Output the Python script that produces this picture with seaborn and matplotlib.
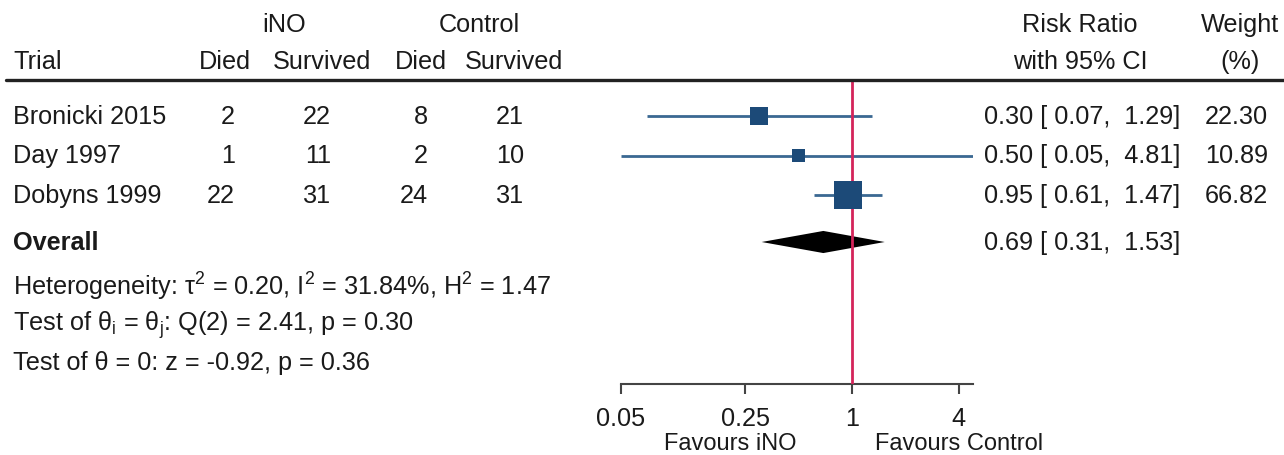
import numpy as np
import pandas as pd
import matplotlib
matplotlib.use("Agg")
import matplotlib.pyplot as plt
import matplotlib.transforms as mtrans
from matplotlib.lines import Line2D
import seaborn as sns

# ---------------- data ----------------
trials = ["Bronicki 2015", "Day 1997", "Dobyns 1999"]
ino_died = [2, 1, 22]
ino_surv = [22, 11, 31]
ctl_died = [8, 2, 24]
ctl_surv = [21, 10, 31]
rr = [0.30, 0.50, 0.95]
rr_lo = [0.07, 0.05, 0.61]
rr_hi = [1.29, 4.81, 1.47]
weights = [22.30, 10.89, 66.82]
overall = [0.69, 0.31, 1.53]  # estimate, low, high
xticks = [0.05, 0.25, 1, 4]
xticklabels = ["0.05", "0.25", "1", "4"]
stats_lines = [
    "Heterogeneity: \u03c4$^2$ = 0.20, I$^2$ = 31.84%, H$^2$ = 1.47",
    "Test of \u03b8$_i$ = \u03b8$_j$: Q(2) = 2.41, p = 0.30",
    "Test of \u03b8 = 0: z = -0.92, p = 0.36",
]

# ---------------- style ----------------
sns.set_theme(style="white")
plt.rcParams["font.family"] = ["Liberation Sans", "DejaVu Sans"]
plt.rcParams["mathtext.default"] = "regular"
FS = 18.2
FS_FAV = 17.0
TXT = "#1a1a1a"
BLUE = "#1c4a78"
BLUE_LINE = "#3a6892"
RED = "#d4245a"

W, H = 1284, 456
fig = plt.figure(figsize=(W / 100, H / 100), dpi=100)

# forest axes: x from 0.05 tick (621px) to 973px, y from top to axis line (385px)
ax_left, ax_right, ax_bottom_px = 621, 973, 385
ax = fig.add_axes([ax_left / W, (H - ax_bottom_px) / H,
                   (ax_right - ax_left) / W, ax_bottom_px / H])
ax.set_xscale("log")
ax.set_xlim(0.05, 4.81)

# row layout (row units, 1 unit = 39.5 px, Bronicki row = 0)
unit = 39.5
y_top = -117 / unit
y_bottom = (ax_bottom_px - 117) / unit
ax.set_ylim(y_bottom, y_top)
y_rows = np.arange(len(trials), dtype=float)
y_head1 = (25 - 117) / unit
y_head2 = (62 - 117) / unit
y_hline = (81 - 117) / unit
y_overall = (243 - 117) / unit
y_stats = [(287 - 117) / unit, (325 - 117) / unit, (363 - 117) / unit]

df = pd.DataFrame({"trial": trials, "rr": rr, "lo": rr_lo, "hi": rr_hi,
                   "w": weights, "y": y_rows})

# CI lines
ax.hlines(df["y"], df["lo"], df["hi"], color=BLUE_LINE, lw=2.0, zorder=2)
# overall diamond
dh = 0.28
ax.fill([overall[1], overall[0], overall[2], overall[0]],
        [y_overall, y_overall - dh, y_overall, y_overall + dh],
        color="black", lw=0, zorder=2)
# null line
ax.vlines(1, y_hline, y_bottom, color=RED, lw=2.0, zorder=3)
# squares (area grows with study weight)
sns.scatterplot(data=df, x="rr", y="y", marker="s", color=BLUE,
                s=14.3 * np.power(np.array(weights), 0.8), linewidth=0, ax=ax,
                zorder=4, legend=False)

ax.set_xlabel("")
ax.set_ylabel("")
ax.set_yticks([])
ax.set_xticks(xticks)
ax.set_xticklabels(xticklabels)
ax.xaxis.set_minor_locator(matplotlib.ticker.NullLocator())
for s in ["top", "right", "left"]:
    ax.spines[s].set_visible(False)
ax.spines["bottom"].set_color("#444444")
ax.spines["bottom"].set_linewidth(1.5)
ax.tick_params(axis="x", direction="out", length=7, width=1.5, color="#444444",
               labelsize=FS, pad=9, labelcolor=TXT, bottom=True)
ax.patch.set_alpha(0)

# favours labels
tr_fav = mtrans.blended_transform_factory(ax.transData, fig.transFigure)
ax.text(0.207, (H - 450.5) / H, "Favours iNO", transform=tr_fav, ha="center",
        va="baseline", fontsize=FS_FAV, color=TXT)
ax.text(4.0, (H - 450.5) / H, "Favours Control", transform=tr_fav, ha="center",
        va="baseline", fontsize=FS_FAV, color=TXT)

# text table
tr = mtrans.blended_transform_factory(fig.transFigure, ax.transData)


def put(xpx, y, s, ha="left", **kw):
    ax.text(xpx / W, y, s, transform=tr, ha=ha, va="center", fontsize=FS,
            color=TXT, clip_on=False, **kw)


# headers
put(284, y_head1, "iNO", ha="center")
put(479, y_head1, "Control", ha="center")
put(1080, y_head1, "Risk Ratio", ha="center")
put(1240, y_head1, "Weight", ha="center")
put(13, y_head2, "Trial")
put(225, y_head2, "Died", ha="center")
put(322, y_head2, "Survived", ha="center")
put(421, y_head2, "Died", ha="center")
put(514, y_head2, "Survived", ha="center")
put(1080, y_head2, "with 95% CI", ha="center")
put(1240, y_head2, "(%)", ha="center")

fig.add_artist(Line2D([6 / W, 1.0], [(H - 81) / H] * 2, transform=fig.transFigure,
                      color="#222222", lw=2.4))

for i, t in enumerate(trials):
    y = y_rows[i]
    put(13, y, t)
    put(235, y, str(ino_died[i]), ha="right")
    put(331, y, str(ino_surv[i]), ha="right")
    put(428, y, str(ctl_died[i]), ha="right")
    put(524, y, str(ctl_surv[i]), ha="right")
    put(1180, y, f"{rr[i]:.2f} [ {rr_lo[i]:.2f},  {rr_hi[i]:.2f}]", ha="right")
    put(1268, y, f"{weights[i]:.2f}", ha="right")

put(13, y_overall, "Overall", fontweight="bold")
put(1180, y_overall, f"{overall[0]:.2f} [ {overall[1]:.2f},  {overall[2]:.2f}]", ha="right")
for y, s in zip(y_stats, stats_lines):
    put(13, y, s)

fig.savefig("out.png", dpi=100)
